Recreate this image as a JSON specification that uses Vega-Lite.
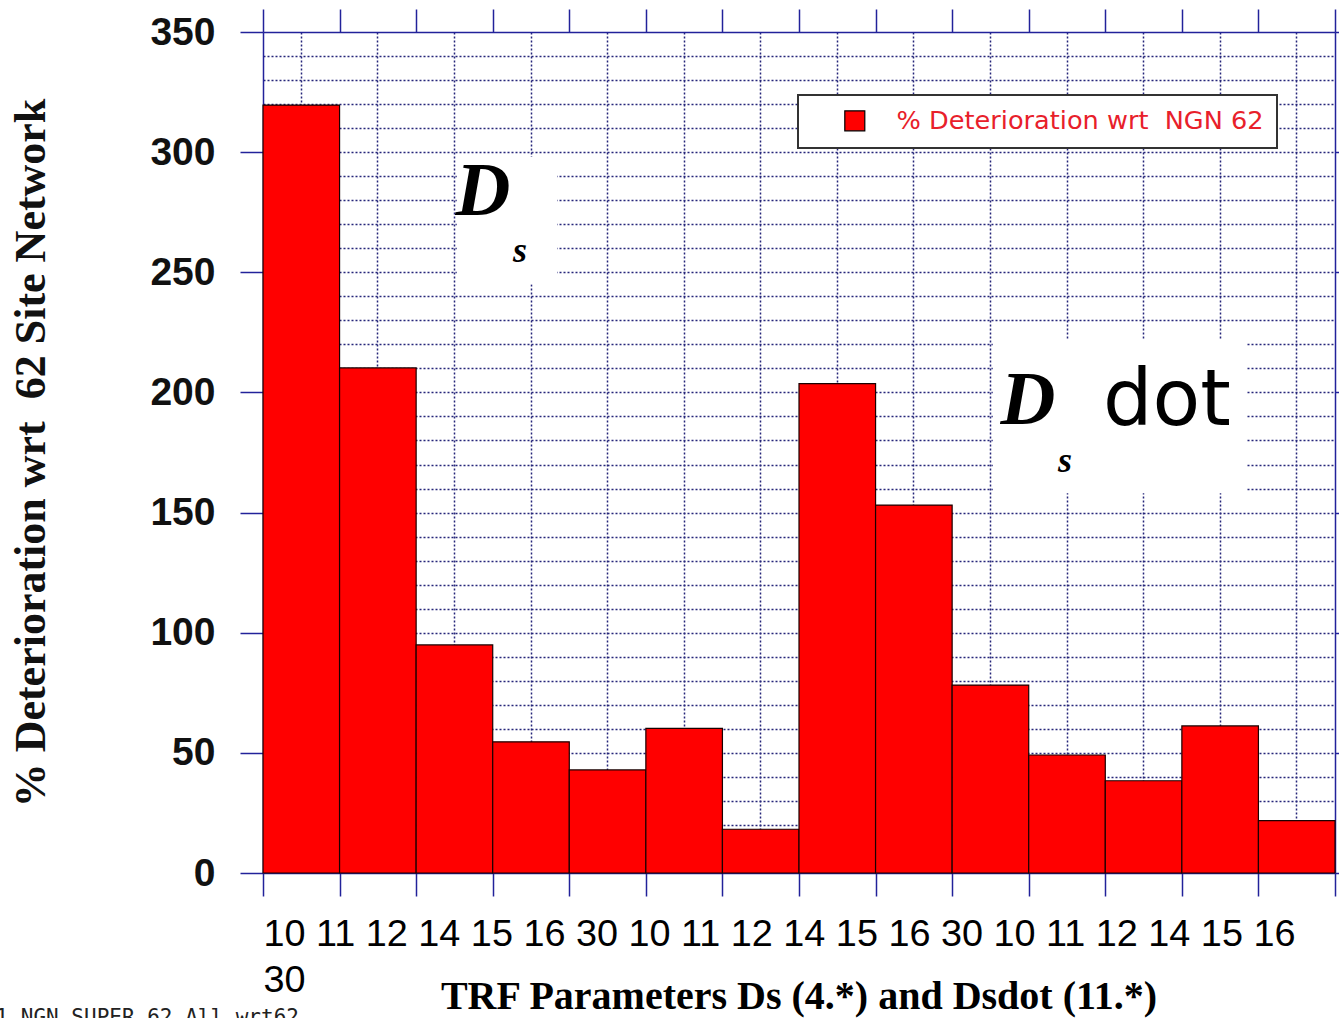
{
  "$schema": "https://vega.github.io/schema/vega-lite/v6.json",
  "width": 1072,
  "height": 841,
  "autosize": "none",
  "padding": {"left": 263, "top": 32, "right": 4, "bottom": 145},
  "background": "white",
  "config": {"view": {"stroke": null}, "legend": {"strokeWidth": 2}},
  "title": {
    "text": "TRF Parameters Ds (4.*) and Dsdot (11.*)",
    "orient": "bottom",
    "anchor": "middle",
    "font": "Liberation Serif",
    "fontSize": 40,
    "fontWeight": "bold",
    "color": "black",
    "offset": -50
  },
  "datasets": {
    "bars": [
      {"param": "4.10", "label": "10", "group": "Ds", "series": "% Deterioration wrt\u00a0\u00a0NGN 62", "value": 319.6},
      {"param": "4.11", "label": "11", "group": "Ds", "series": "% Deterioration wrt\u00a0\u00a0NGN 62", "value": 210.2},
      {"param": "4.12", "label": "12", "group": "Ds", "series": "% Deterioration wrt\u00a0\u00a0NGN 62", "value": 94.9},
      {"param": "4.14", "label": "14", "group": "Ds", "series": "% Deterioration wrt\u00a0\u00a0NGN 62", "value": 54.6},
      {"param": "4.15", "label": "15", "group": "Ds", "series": "% Deterioration wrt\u00a0\u00a0NGN 62", "value": 42.9},
      {"param": "4.16", "label": "16", "group": "Ds", "series": "% Deterioration wrt\u00a0\u00a0NGN 62", "value": 60.2},
      {"param": "4.30", "label": "30", "group": "Ds", "series": "% Deterioration wrt\u00a0\u00a0NGN 62", "value": 18.2},
      {"param": "11.10", "label": "10", "group": "Dsdot", "series": "% Deterioration wrt\u00a0\u00a0NGN 62", "value": 203.7},
      {"param": "11.11", "label": "11", "group": "Dsdot", "series": "% Deterioration wrt\u00a0\u00a0NGN 62", "value": 153.1},
      {"param": "11.12", "label": "12", "group": "Dsdot", "series": "% Deterioration wrt\u00a0\u00a0NGN 62", "value": 78.2},
      {"param": "11.14", "label": "14", "group": "Dsdot", "series": "% Deterioration wrt\u00a0\u00a0NGN 62", "value": 49.1},
      {"param": "11.15", "label": "15", "group": "Dsdot", "series": "% Deterioration wrt\u00a0\u00a0NGN 62", "value": 38.4},
      {"param": "11.16", "label": "16", "group": "Dsdot", "series": "% Deterioration wrt\u00a0\u00a0NGN 62", "value": 61.2},
      {"param": "11.30", "label": "30", "group": "Dsdot", "series": "% Deterioration wrt\u00a0\u00a0NGN 62", "value": 21.8}
    ],
    "blanks": [
      {"from": "4.12", "to": "4.14", "low": 245, "high": 298},
      {"from": "11.12", "to": "11.16", "low": 158, "high": 222}
    ]
  },
  "layer": [
    {
      "data": {"name": "bars"},
      "mark": {"type": "bar", "opacity": 0},
      "encoding": {
        "x": {
          "field": "param", "type": "nominal", "sort": null,
          "scale": {"domain": ["4.10","4.11","4.12","4.14","4.15","4.16","4.30","11.10","11.11","11.12","11.14","11.15","11.16","11.30"], "paddingInner": 0, "paddingOuter": 0},
          "axis": {
            "orient": "bottom", "grid": true, "bandPosition": 0.5, "ticks": false, "labels": false, "domain": false,
            "gridColor": "#26267a", "gridDash": [2, 2], "gridWidth": 1.5,
            "title": "1 NGN SUPER 62 All wrt62",
            "titleFont": "DejaVu Sans Mono", "titleFontSize": 21, "titleFontWeight": "normal", "titleColor": "#222222",
            "titleX": -268, "titleY": 133, "titleAlign": "left", "titleBaseline": "top", "titleAngle": 0
          }
        },
        "y": {
          "field": "value", "type": "quantitative",
          "scale": {"domain": [0, 350], "nice": false, "zero": true},
          "axis": {
            "orient": "left", "grid": true, "values": [10,20,30,40,50,60,70,80,90,100,110,120,130,140,150,160,170,180,190,200,210,220,230,240,250,260,270,280,290,300,310,320,330,340],
            "ticks": false, "labels": false, "domain": false, "title": null,
            "gridColor": "#26267a", "gridDash": [2, 2], "gridWidth": 1.5
          }
        }
      }
    },
    {
      "data": {"name": "blanks"},
      "mark": {"type": "rect", "fill": "white", "stroke": null},
      "encoding": {
        "x": {"field": "from", "type": "nominal", "sort": null, "bandPosition": 0.53, "axis": null, "scale": {"domain": ["4.10","4.11","4.12","4.14","4.15","4.16","4.30","11.10","11.11","11.12","11.14","11.15","11.16","11.30"], "paddingInner": 0, "paddingOuter": 0}},
        "x2": {"field": "to", "bandPosition": 0.84},
        "y": {"field": "low", "type": "quantitative", "axis": null, "scale": {"domain": [0, 350], "nice": false, "zero": true}},
        "y2": {"field": "high"}
      }
    },
    {
      "data": {"name": "bars"},
      "mark": {"type": "bar", "stroke": "#1a0000", "strokeWidth": 1.2},
      "encoding": {
        "x": {
          "field": "param", "type": "nominal", "sort": null,
          "scale": {"domain": ["4.10","4.11","4.12","4.14","4.15","4.16","4.30","11.10","11.11","11.12","11.14","11.15","11.16","11.30"], "paddingInner": 0, "paddingOuter": 0},
          "axis": {
            "orient": "bottom", "tickBand": "extent", "labels": false, "ticks": true, "tickSize": 23,
            "tickColor": "#22229a", "tickWidth": 1.5, "domainColor": "#22229a", "domainWidth": 1.5, "grid": false,
            "title": ["10 11 12 14 15 16 30 10 11 12 14 15 16 30 10 11 12 14 15 16", "30"],
            "titleFont": "Liberation Sans", "titleFontSize": 37.8, "titleFontWeight": "normal", "titleColor": "black",
            "titleAnchor": "start", "titleAlign": "left", "titleLineHeight": 46, "titlePadding": 19
          }
        },
        "y": {
          "field": "value", "type": "quantitative",
          "scale": {"domain": [0, 350], "nice": false, "zero": true},
          "axis": {
            "orient": "left", "values": [0, 50, 100, 150, 200, 250, 300, 350], "grid": false,
            "tickSize": 23, "tickColor": "#22229a", "tickWidth": 1.5, "domainColor": "#22229a", "domainWidth": 1.5,
            "labelFont": "Liberation Sans", "labelFontSize": 39, "labelFontWeight": "bold", "labelColor": "#111111", "labelPadding": 25,
            "title": "% Deterioration wrt\u00a0\u00a062 Site Network",
            "titleFont": "Liberation Serif", "titleFontSize": 44, "titleFontWeight": "bold", "titleColor": "#111111",
            "titlePadding": 96
          }
        },
        "color": {
          "field": "series", "type": "nominal",
          "scale": {"range": ["#ff0000"]},
          "legend": {
            "orient": "none", "legendX": 535, "legendY": 63, "title": null,
            "symbolType": "square", "symbolSize": 400, "symbolStrokeColor": "black", "symbolStrokeWidth": 1.2,
            "labelFont": "DejaVu Sans", "labelFontSize": 25.6, "labelColor": "#e8202a", "labelLimit": 800,
            "padding": 13, "strokeColor": "#333333", "fillColor": "white",
            "symbolOffset": 31, "labelOffset": 29
          }
        }
      }
    },
    {
      "data": {"name": "bars"},
      "mark": {"type": "bar", "opacity": 0},
      "encoding": {
        "x": {
          "field": "param", "type": "nominal", "sort": null,
          "scale": {"domain": ["4.10","4.11","4.12","4.14","4.15","4.16","4.30","11.10","11.11","11.12","11.14","11.15","11.16","11.30"], "paddingInner": 0, "paddingOuter": 0},
          "axis": {
            "orient": "top", "tickBand": "extent", "labels": false, "ticks": true, "tickSize": 23,
            "tickColor": "#22229a", "tickWidth": 1.5, "domainColor": "#22229a", "domainWidth": 1.5, "grid": false, "title": null
          }
        },
        "y": {
          "field": "value", "type": "quantitative",
          "scale": {"domain": [0, 350], "nice": false, "zero": true},
          "axis": {
            "orient": "right", "values": [0, 50, 100, 150, 200, 250, 300, 350], "grid": false, "labels": false,
            "tickSize": 23, "tickColor": "#22229a", "tickWidth": 1.5, "domainColor": "#22229a", "domainWidth": 1.5, "title": null
          }
        }
      }
    },
    {
      "data": {"values": [{"param": "4.12", "value": 273.8, "text": "D"}]},
      "mark": {"type": "text", "font": "Liberation Serif", "fontSize": 76, "fontStyle": "italic", "fontWeight": "bold", "align": "left", "baseline": "alphabetic", "dx": 1, "color": "black"},
      "encoding": {
        "x": {"field": "param", "type": "nominal", "sort": null, "axis": null, "scale": {"domain": ["4.10","4.11","4.12","4.14","4.15","4.16","4.30","11.10","11.11","11.12","11.14","11.15","11.16","11.30"], "paddingInner": 0, "paddingOuter": 0}},
        "y": {"field": "value", "type": "quantitative", "axis": null, "scale": {"domain": [0, 350], "nice": false, "zero": true}},
        "text": {"field": "text"}
      }
    },
    {
      "data": {"values": [{"param": "4.14", "value": 254.3, "text": "s"}]},
      "mark": {"type": "text", "font": "Liberation Serif", "fontSize": 36, "fontStyle": "italic", "fontWeight": "bold", "align": "center", "baseline": "alphabetic", "dx": -11, "color": "black"},
      "encoding": {
        "x": {"field": "param", "type": "nominal", "sort": null, "axis": null, "scale": {"domain": ["4.10","4.11","4.12","4.14","4.15","4.16","4.30","11.10","11.11","11.12","11.14","11.15","11.16","11.30"], "paddingInner": 0, "paddingOuter": 0}},
        "y": {"field": "value", "type": "quantitative", "axis": null, "scale": {"domain": [0, 350], "nice": false, "zero": true}},
        "text": {"field": "text"}
      }
    },
    {
      "data": {"values": [{"param": "11.12", "value": 186.8, "text": "D"}]},
      "mark": {"type": "text", "font": "Liberation Serif", "fontSize": 76, "fontStyle": "italic", "fontWeight": "bold", "align": "left", "baseline": "alphabetic", "dx": 10, "color": "black"},
      "encoding": {
        "x": {"field": "param", "type": "nominal", "sort": null, "axis": null, "scale": {"domain": ["4.10","4.11","4.12","4.14","4.15","4.16","4.30","11.10","11.11","11.12","11.14","11.15","11.16","11.30"], "paddingInner": 0, "paddingOuter": 0}},
        "y": {"field": "value", "type": "quantitative", "axis": null, "scale": {"domain": [0, 350], "nice": false, "zero": true}},
        "text": {"field": "text"}
      }
    },
    {
      "data": {"values": [{"param": "11.14", "value": 166.9, "text": "s"}]},
      "mark": {"type": "text", "font": "Liberation Serif", "fontSize": 36, "fontStyle": "italic", "fontWeight": "bold", "align": "center", "baseline": "alphabetic", "dx": -2, "color": "black"},
      "encoding": {
        "x": {"field": "param", "type": "nominal", "sort": null, "axis": null, "scale": {"domain": ["4.10","4.11","4.12","4.14","4.15","4.16","4.30","11.10","11.11","11.12","11.14","11.15","11.16","11.30"], "paddingInner": 0, "paddingOuter": 0}},
        "y": {"field": "value", "type": "quantitative", "axis": null, "scale": {"domain": [0, 350], "nice": false, "zero": true}},
        "text": {"field": "text"}
      }
    },
    {
      "data": {"values": [{"param": "11.14", "value": 186.4, "text": "dot"}]},
      "mark": {"type": "text", "font": "DejaVu Sans", "fontSize": 78, "fontWeight": "normal", "align": "left", "baseline": "alphabetic", "dx": 36, "color": "black"},
      "encoding": {
        "x": {"field": "param", "type": "nominal", "sort": null, "axis": null, "scale": {"domain": ["4.10","4.11","4.12","4.14","4.15","4.16","4.30","11.10","11.11","11.12","11.14","11.15","11.16","11.30"], "paddingInner": 0, "paddingOuter": 0}},
        "y": {"field": "value", "type": "quantitative", "axis": null, "scale": {"domain": [0, 350], "nice": false, "zero": true}},
        "text": {"field": "text"}
      }
    }
  ],
  "resolve": {"axis": {"x": "independent", "y": "independent"}}
}
